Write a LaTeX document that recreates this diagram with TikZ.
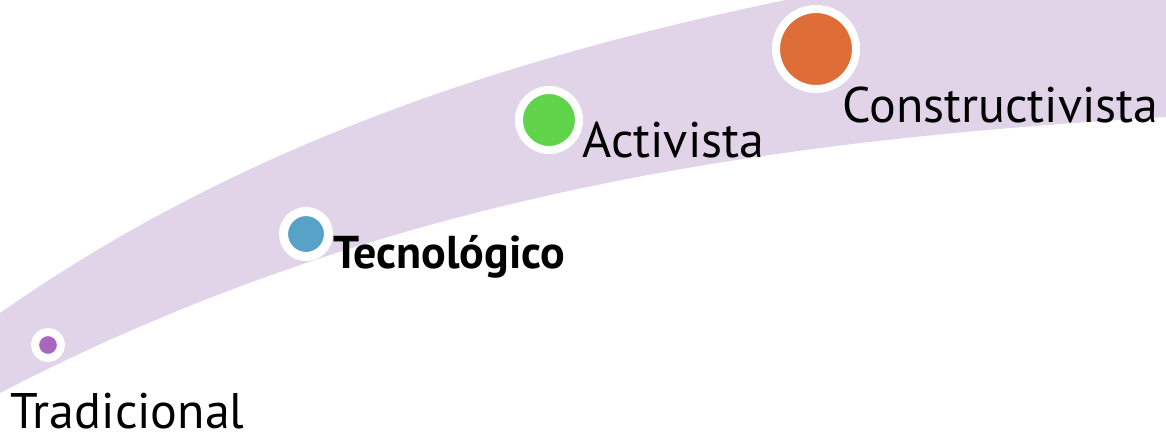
\documentclass[tikz,border=0pt]{standalone}
\usepackage{fontspec}
\setmainfont{PT Sans}
\usepackage{tikz}
\usetikzlibrary{positioning}

\definecolor{bandcol}{HTML}{E2D4E8}
\definecolor{dotp}{HTML}{A966BE}
\definecolor{dotb}{HTML}{57A3C8}
\definecolor{dotg}{HTML}{5FD34A}
\definecolor{doto}{HTML}{DF6D37}

\begin{document}
\begin{tikzpicture}[x=0.5pt,y=-0.5pt,
dot/.style={circle, fill=#1, draw=white, line width=4pt, inner sep=0pt},
stage_lbl/.style={anchor=base west, inner sep=0pt, font=\fontsize{25}{25}\selectfont}]

   % frame of the picture
   \useasboundingbox (0,0) rectangle (1166,434);

   % the curved band
   \begin{scope}
   \clip (0,0) rectangle (1166,434);
   \fill[bandcol] (-20,327) -- (0,313) .. controls (360,61) and (776,-6) .. (1166,-65)
     -- (1200,-70) -- (1200,115) -- (1166,117)
     .. controls (777,140) and (389,191) .. (0,393) -- (-20,403) -- cycle;
   \end{scope}

   \node[dot=dotp, minimum size=13pt] at (48,345) (P0) {};
   \node[dot=dotb, minimum size=22.5pt, line width=4.5pt] at (306,234) (B0) {};
   \node[dot=dotg, minimum size=30pt] at (549,120) (G0) {};
   \node[dot=doto, minimum size=40pt] at (816,49) (O0) {};

   \node[stage_lbl] at (10,428) (P1) {Tradicional};
   \node[stage_lbl, font=\fontsize{23}{23}\selectfont\bfseries] at (333,268) (B1) {Tecnológico};
   \node[stage_lbl] at (582,157) (G1) {Activista};
   \node[stage_lbl] at (842,122) (O1) {Constructivista};

\end{tikzpicture}
\end{document}
